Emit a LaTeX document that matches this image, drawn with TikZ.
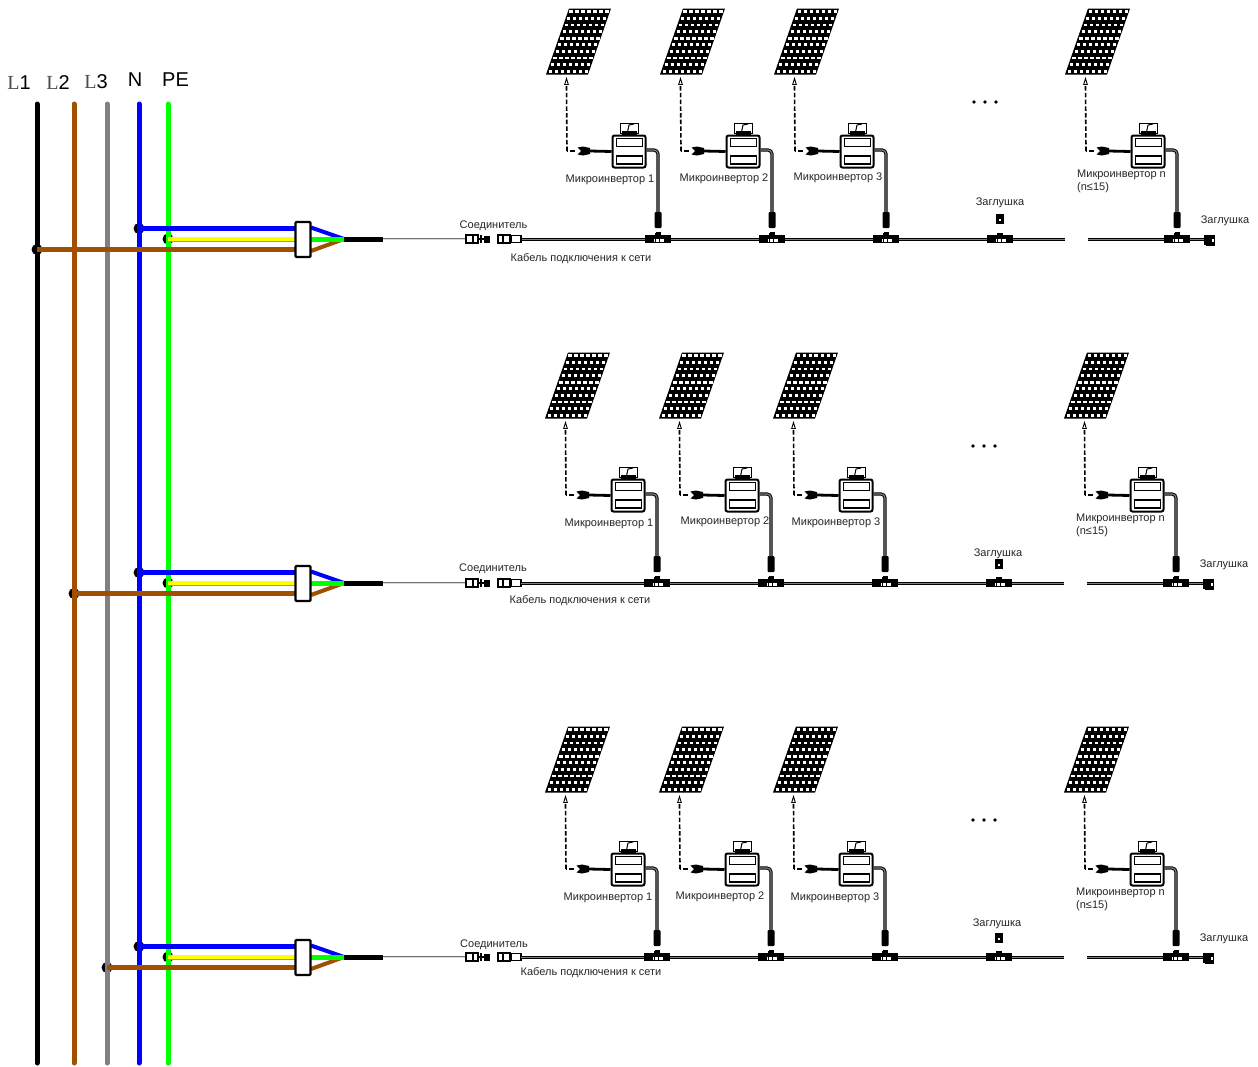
\documentclass[tikz,border=0pt]{standalone}
\usepackage{fontspec}
\setmainfont{Liberation Sans}
\newfontfamily\serifL{Liberation Serif}
\usetikzlibrary{calc}
\definecolor{brn}{HTML}{A05000}
\definecolor{blu}{HTML}{0000FF}
\definecolor{grn}{HTML}{00FF00}
\definecolor{ylw}{HTML}{FFFF00}
\definecolor{gry}{HTML}{808080}
\tikzset{
  lbl/.style={inner sep=0pt,font=\fontsize{11}{12}\selectfont,text=black!85},
  lblw/.style={lbl,anchor=west,align=left},
  bighead/.style={inner sep=0pt,font=\fontsize{20}{22}\selectfont,text=black},
  busline/.style={line width=5pt,line cap=round},
  feed/.style={line width=5pt},
  splitbox/.style={draw=black,fill=white,line width=2.2pt,rounded corners=1pt,minimum width=15pt,minimum height=35pt,inner sep=0pt},
  invbox/.style={draw=black,fill=white,line width=2pt,rounded corners=2pt,minimum width=33pt,minimum height=32pt,inner sep=0pt},
  invslot/.style={draw=black,fill=white,line width=1.5pt,minimum width=26pt,minimum height=8pt,inner sep=0pt},
  mount/.style={draw=black,fill=white,line width=1pt,minimum width=18pt,minimum height=10pt,inner sep=0pt},
  dc/.style={draw=black,line width=1.6pt,dash pattern=on 4.5pt off 2.2pt},
  blackpart/.style={fill=black,inner sep=0pt},
  coreblack/.style={line width=3.6pt,draw=black},
  coregray/.style={line width=1.9pt,draw=black!50},
  dropblack/.style={line width=3.2pt,draw=black},
  dropgray/.style={line width=1.2pt,draw=black!50},
  coupler/.style={draw=black,line width=1.5pt,fill=white,inner sep=0pt},
}
\newcommand{\solarunit}[3]{%
\begin{scope}[shift={(#2,#3)}]
  \begin{scope}[shift={(546,74.5)},x={(42pt,0pt)},y={(23pt,66pt)}]
    \fill[black] (0,0) -- (1,0) -- (1,1) -- (0,1) -- cycle;
    \foreach \i in {0,...,6}{\foreach \j in {0,...,9}{
      \fill[white] ({.05+\i/7},{.03+\j/10}) rectangle ({\i/7+.105},{(\j+1)/10-.03});
    }}
  \end{scope}
  \coordinate (#1pv) at (566.5,78);
  \coordinate (#1bend) at (567,151);
  \node[blackpart,minimum width=8pt,minimum height=5pt] (#1mc) at (586,151) {};
  \fill[black] (577.5,147.5) -- (583,146.5) -- (590,148) -- (590,154) -- (583,155.5) -- (577.5,154.5) -- (581,151) -- cycle;
  \node[invbox] (#1inv) at (629,151.5) {};
  \draw[black,line width=2.8pt] (#1mc.east) -- (#1inv.west);
  \node[mount] (#1mnt) at (629.5,128) {};
  \draw[black,line width=1pt] (627.5,132) -- (629,125) -- (634,124);
  \fill[black] (622,131) rectangle (637,135);
  \node[invslot] at (629.5,142.5) {};
  \node[invslot] at (629.5,160) {};
  \node[blackpart,minimum width=7pt,minimum height=16pt,rounded corners=1pt] (#1ac) at (658,220) {};
  \node[blackpart,minimum width=5pt,minimum height=3pt] at (658,233) {};
  \draw[dc] (#1bend) -- (#1pv|-0,85);
  \draw[dc] (574.5,151) -- (#1bend);
  \draw[black,line width=.9pt,fill=white] (566.5,78.5) -- (564.7,84.5) -- (568.3,84.5) -- cycle;
  \draw[dropblack,rounded corners=4pt] (#1inv.east|-0,150) -- (658,150) -- (#1ac.north);
  \draw[dropgray,rounded corners=4pt] (#1inv.east|-0,150) -- (658,150) -- (#1ac.north);
\end{scope}}
\newcommand{\teepiece}[2]{%
  \node[blackpart,minimum width=18pt,minimum height=8pt] (#1) at (#2) {};
  \begin{scope}[shift={(#2)}]
    \fill[black] (-13,-4) rectangle (-8,4);
    \fill[black] (8,-4) rectangle (13,4);
    \fill[black] (-3,-6.5) rectangle (3,0);
    \fill[white] (-4,-.5) rectangle (6,2.5);
    \fill[black] (-3,-.5) rectangle (-2,2.5);
    \fill[black] (1,-.5) rectangle (2,2.5);
  \end{scope}}
\newcommand{\capplug}[2]{%
  \node[blackpart,minimum width=8pt,minimum height=10pt] (#1) at (#2) {};
  \fill[white] ($(#2)+(-1,-.5)$) rectangle ($(#2)+(1,2)$);}
\begin{document}
\begin{tikzpicture}[x=1pt,y=-1pt]
\useasboundingbox (0,0) rectangle (1258,1066);
\fill[white] (0,0) rectangle (1258,1066);

\node[bighead] (tL1) at (19,82.5) {{\serifL\color{black!70}L}1};
\node[bighead] (tL2) at (58,82.5) {{\serifL\color{black!70}L}2};
\node[bighead] (tL3) at (96,81.5) {{\serifL\color{black!70}L}3};
\node[bighead] (tN) at (135,80) {N};
\node[bighead] (tPE) at (175.5,79.5) {PE};

\coordinate (L1a) at (37,104); \coordinate (L1b) at (37,1063);
\coordinate (L2a) at (74,104); \coordinate (L2b) at (74,1063);
\coordinate (L3a) at (107,104); \coordinate (L3b) at (107,1063);
\coordinate (Na) at (139,104); \coordinate (Nb) at (139,1063);
\coordinate (PEa) at (168,104); \coordinate (PEb) at (168,1063);

\foreach \dy/\tx/\nm in {0/37/a,344/74/b,718/107/c}{
  \begin{scope}[shift={(0,\dy)}]
    \coordinate (joint\nm) at (344,239);
    \coordinate (tapN\nm) at (139,228.5);
    \coordinate (tapPE\nm) at (168,239);
    \coordinate (tapL\nm) at (\tx,249.5);
    \fill[black] (tapN\nm) circle (5.5pt);
    \fill[black] (tapPE\nm) circle (5.5pt);
    \fill[black] (tapL\nm) circle (5.5pt);
  \end{scope}
}
\foreach \c/\a/\b in {black/L1a/L1b,brn/L2a/L2b,gry/L3a/L3b,blu/Na/Nb,grn/PEa/PEb}{
  \draw[busline,draw=\c] (\a) -- (\b);
}
\foreach \dy/\nm in {0/a,344/b,718/c}{
  \begin{scope}[shift={(0,\dy)}]
    \draw[feed,draw=brn] (tapL\nm) -- (296,249.5);
    \draw[feed,draw=blu] (tapN\nm) -- (296,228.5);
    \draw[feed,draw=grn] (tapPE\nm) -- (296,239);
    \draw[line width=3.2pt,draw=ylw] (tapPE\nm) -- (296,239);
    \draw[line width=4pt,draw=blu] (311,227.5) -- (joint\nm);
    \draw[line width=4pt,draw=brn] (311,251) -- (joint\nm);
    \draw[line width=5pt,draw=grn] (311,239) -- (joint\nm);
    \node[splitbox] (box\nm) at (303,239.5) {};
    \node[blackpart,minimum width=39pt,minimum height=5pt] (sheath\nm) at (363.5,239) {};
    \draw[black!55,line width=2pt] (sheath\nm.east) -- (466,239);
    \draw[white!85!black,line width=.6pt] (383,239) -- (466,239);
    \node[coupler,minimum width=12pt,minimum height=8pt] (sockA\nm) at (472,239) {};
    \draw[black,line width=1.6pt] (473,235) -- (473,243);
    \draw[black,line width=1.6pt] (478,239) -- (484,239);
    \fill[black] (479.5,235) rectangle (482,243);
    \node[blackpart,minimum width=6pt,minimum height=7pt] (plugA\nm) at (486.5,239) {};
    \node[coupler,minimum width=12pt,minimum height=8pt] (sockB\nm) at (504,239) {};
    \draw[black,line width=1.6pt] (503,235) -- (503,243);
    \node[coupler,minimum width=9pt,minimum height=7pt] (sockC\nm) at (516,239) {};
    \fill[black] (519.5,235) rectangle (522,243);
  \end{scope}
}

\foreach \dy/\dx/\nm in {0/0/a,344/-1/b,718/-1/c}{
  \begin{scope}[shift={(\dx,\dy)}]
    \coordinate (tr\nm0) at (522,239.5);
    \coordinate (tr\nm1) at (1065,239.5);
    \coordinate (tr\nm2) at (1088,239.5);
    \coordinate (tr\nm3) at (1206,239.5);
    \draw[coreblack] (tr\nm0) -- (tr\nm1);
    \draw[coregray] (tr\nm0) -- (tr\nm1);
    \draw[coreblack] (tr\nm2) -- (tr\nm3);
    \draw[coregray] (tr\nm2) -- (tr\nm3);
    \teepiece{tee\nm1}{658,239}
    \teepiece{tee\nm2}{772,239}
    \teepiece{tee\nm3}{886,239}
    \teepiece{tee\nm4}{1000,239}
    \teepiece{tee\nm5}{1177,239}
    \node[blackpart,minimum width=9pt,minimum height=11pt] (end\nm) at (1210.5,240) {};
    \fill[black] (1204,235) rectangle (1208,245);
    \fill[white] (1212,238.5) rectangle (1213.5,241.5);
    \fill[black] (985,102) circle (1.8pt) (974,102) circle (1.8pt) (996,102) circle (1.8pt);
  \end{scope}
}
\solarunit{a1}{0}{0}\solarunit{a2}{114}{0}\solarunit{a3}{228}{0}\solarunit{a4}{519}{0}
\solarunit{b1}{-1}{344}\solarunit{b2}{113}{344}\solarunit{b3}{227}{344}\solarunit{b4}{518}{344}
\solarunit{c1}{-1}{718}\solarunit{c2}{113}{718}\solarunit{c3}{227}{718}\solarunit{c4}{518}{718}

\capplug{capa}{1000,219}
\capplug{capb}{998.5,564}
\capplug{capc}{998.5,938}

\node[lbl] (a1t) at (610,180) {Микроинвертор 1};
\node[lbl] (a2t) at (724,179) {Микроинвертор 2};
\node[lbl] (a3t) at (838,178) {Микроинвертор 3};
\node[lblw] (a4t) at (1077,175) {Микроинвертор n};
\node[lblw] (a5t) at (1077,188) {(n≤15)};
\node[lbl] (a6t) at (493.5,226) {Соединитель};
\node[lbl] (a7t) at (581,259) {Кабель подключения к сети};
\node[lbl] (a8t) at (1000,203) {Заглушка};
\node[lbl] (a9t) at (1225,221) {Заглушка};
\node[lbl] (b1t) at (609,524) {Микроинвертор 1};
\node[lbl] (b2t) at (725,522) {Микроинвертор 2};
\node[lbl] (b3t) at (836,523) {Микроинвертор 3};
\node[lblw] (b4t) at (1076,519) {Микроинвертор n};
\node[lblw] (b5t) at (1076,532) {(n≤15)};
\node[lbl] (b6t) at (493,569) {Соединитель};
\node[lbl] (b7t) at (580,601) {Кабель подключения к сети};
\node[lbl] (b8t) at (998,554) {Заглушка};
\node[lbl] (b9t) at (1224,565) {Заглушка};
\node[lbl] (c1t) at (608,898) {Микроинвертор 1};
\node[lbl] (c2t) at (720,897) {Микроинвертор 2};
\node[lbl] (c3t) at (835,898) {Микроинвертор 3};
\node[lblw] (c4t) at (1076,893) {Микроинвертор n};
\node[lblw] (c5t) at (1076,906) {(n≤15)};
\node[lbl] (c6t) at (494,945) {Соединитель};
\node[lbl] (c7t) at (591,973) {Кабель подключения к сети};
\node[lbl] (c8t) at (997,924) {Заглушка};
\node[lbl] (c9t) at (1224,939) {Заглушка};
\end{tikzpicture}
\end{document}
